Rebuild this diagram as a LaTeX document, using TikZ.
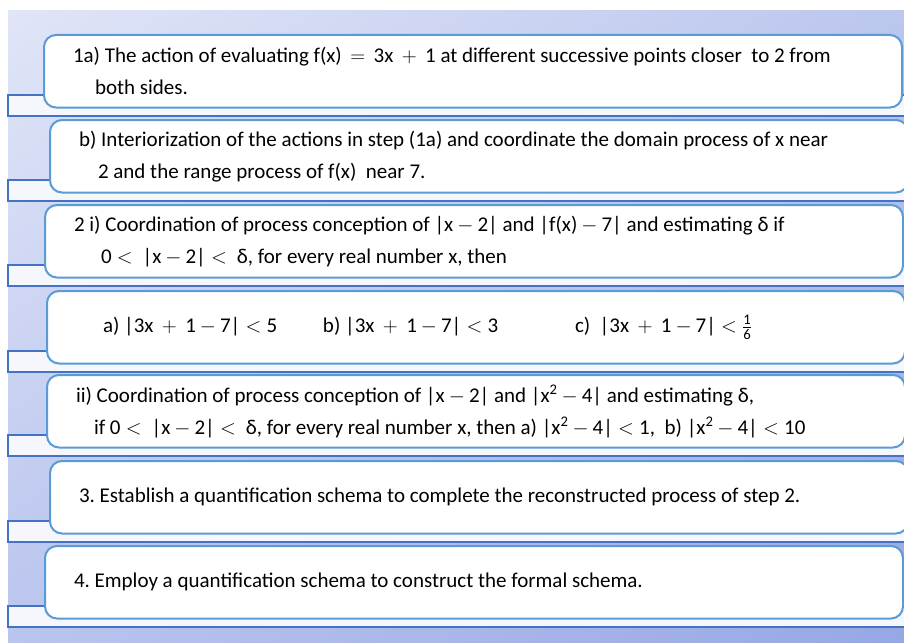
\documentclass[tikz,border=0pt]{standalone}
\usepackage{amsmath}
\usepackage{fontspec}
\setmainfont{Carlito}
\usetikzlibrary{positioning,backgrounds,shadings}
\definecolor{boxblue}{RGB}{91,155,213}
\definecolor{tabblue}{RGB}{68,114,196}
\definecolor{tabfill}{RGB}{245,247,253}
\definecolor{bgtl}{RGB}{224,229,247}
\definecolor{bgtr}{RGB}{188,199,238}
\definecolor{bgbl}{RGB}{186,197,238}
\definecolor{bgbr}{RGB}{150,168,228}
\newcommand{\opr}[2][0.25em]{\hspace{#1}\ensuremath{#2}\hspace{#1}}
\newcommand{\eqs}{\opr[0.4em]{=}}
\newcommand{\pls}{\opr[0.4em]{+}}
\newcommand{\mns}{\opr[0.19em]{-}}
\newcommand{\lts}{\opr{<}}
\newcommand{\sixth}{\ensuremath{\frac{\text{1}}{\text{6}}}}
\begin{document}
\begin{tikzpicture}[
    x=1pt, y=-1pt,
    stepbox/.style={draw=boxblue, line width=2pt, fill=white, rounded corners=12pt,
                    text width=800pt, inner xsep=29pt, minimum height=72.5pt, outer sep=0pt,
                    align=left, anchor=north west, font=\fontsize{21}{32}\selectfont,
                    execute at begin node={\spaceskip=0pt\xspaceskip=0pt\frenchspacing}},
    tabbar/.style={draw=tabblue, line width=2.5pt, fill=tabfill}
  ]
    \useasboundingbox (0,0) rectangle (904,642);
    \coordinate (bgl) at (8,0);
    \node[stepbox] (s1) at (44,35) {1a) The action of evaluating f(x)\eqs 3x\pls 1 at different successive points closer\ \ to 2 from\\\hspace*{22pt}both sides.};
    \node[stepbox, below=12.5pt of s1.south west, anchor=north west, xshift=6pt] (s2) {b) Interiorization of the actions in step (1a) and coordinate the domain process of x near\\\hspace*{19pt}2 and the range process of f(x)\ \ near 7.};
    \node[stepbox, below=12.5pt of s2.south west, anchor=north west, xshift=-5pt] (s3) {2 i) Coordination of process conception of |x\mns 2| and |f(x)\mns 7| and estimating δ if\\\hspace*{27pt}0\lts\ |x\mns 2|\lts\ δ, for every real number x, then};
    \node[stepbox, below=13.5pt of s3.south west, anchor=north west, xshift=2pt] (s4) {\hspace*{27pt}\makebox[220pt][l]{a) |3x\pls 1\mns 7|\lts 5}\makebox[252pt][l]{b) |3x\pls 1\mns 7|\lts 3}c)\ \ |3x\pls 1\mns 7|\lts\sixth};
    \node[stepbox, below=11.5pt of s4.south west, anchor=north west] (s5) {ii) Coordination of process conception of |x\mns 2| and |x\textsuperscript{2}\mns 4| and estimating δ,\\\hspace*{18pt}if 0\lts\ |x\mns 2|\lts\ δ, for every real number x, then a) |x\textsuperscript{2}\mns 4|\lts 1, \ b) |x\textsuperscript{2}\mns 4|\lts 10};
    \node[stepbox, below=13.5pt of s5.south west, anchor=north west, xshift=3pt] (s6) {3. Establish a quantification schema to complete the reconstructed process of step 2.};
    \node[stepbox, below=12.5pt of s6.south west, anchor=north west, xshift=-5pt] (s7) {4. Employ a quantification schema to construct the formal schema.};
    % backdrop and the flat bars under each step
    \begin{scope}[on background layer]
      \shade[upper left=bgtl, upper right=bgtr, lower left=bgbl, lower right=bgbr]
        (8,11) rectangle (904,642);
      \foreach \s in {s1,s2,s3,s4,s5,s6,s7}
        \draw[tabbar] (bgl |- \s.south) ++(0pt,12.5pt) rectangle ++(900pt,-21pt);
    \end{scope}
  \end{tikzpicture}
\end{document}
